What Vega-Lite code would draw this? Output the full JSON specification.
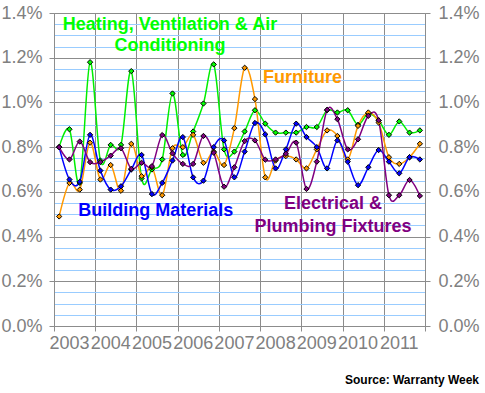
{
  "$schema": "https://vega.github.io/schema/vega-lite/v6.json",
  "autosize": {"type": "none"},
  "padding": {"left": 54, "top": 13, "right": 60, "bottom": 67},
  "width": 371,
  "height": 313,
  "background": "white",
  "title": {"text": "Source: Warranty Week", "orient": "bottom", "anchor": "end", "frame": "bounds", "font": "Liberation Sans", "fontSize": 12, "fontWeight": "bold", "color": "black", "offset": 23},
  "datasets": {
    "q": [
      {"series":"HVAC","t":2003.125,"v":0.80},{"series":"HVAC","t":2003.375,"v":0.88},{"series":"HVAC","t":2003.625,"v":0.64},{"series":"HVAC","t":2003.875,"v":1.18},
      {"series":"HVAC","t":2004.125,"v":0.74},{"series":"HVAC","t":2004.375,"v":0.81},{"series":"HVAC","t":2004.625,"v":0.81},{"series":"HVAC","t":2004.875,"v":1.14},
      {"series":"HVAC","t":2005.125,"v":0.66},{"series":"HVAC","t":2005.375,"v":0.70},{"series":"HVAC","t":2005.625,"v":0.745},{"series":"HVAC","t":2005.875,"v":1.04},
      {"series":"HVAC","t":2006.125,"v":0.765},{"series":"HVAC","t":2006.375,"v":0.87},{"series":"HVAC","t":2006.625,"v":0.995},{"series":"HVAC","t":2006.875,"v":1.17},
      {"series":"HVAC","t":2007.125,"v":0.79},{"series":"HVAC","t":2007.375,"v":0.78},{"series":"HVAC","t":2007.625,"v":0.87},{"series":"HVAC","t":2007.875,"v":0.965},
      {"series":"HVAC","t":2008.125,"v":0.905},{"series":"HVAC","t":2008.375,"v":0.865},{"series":"HVAC","t":2008.625,"v":0.865},{"series":"HVAC","t":2008.875,"v":0.865},
      {"series":"HVAC","t":2009.125,"v":0.89},{"series":"HVAC","t":2009.375,"v":0.89},{"series":"HVAC","t":2009.625,"v":0.965},{"series":"HVAC","t":2009.875,"v":0.955},
      {"series":"HVAC","t":2010.125,"v":0.965},{"series":"HVAC","t":2010.375,"v":0.90},{"series":"HVAC","t":2010.625,"v":0.95},{"series":"HVAC","t":2010.875,"v":0.92},
      {"series":"HVAC","t":2011.125,"v":0.855},{"series":"HVAC","t":2011.375,"v":0.915},{"series":"HVAC","t":2011.625,"v":0.865},{"series":"HVAC","t":2011.875,"v":0.875},

      {"series":"Furniture","t":2003.125,"v":0.49},{"series":"Furniture","t":2003.375,"v":0.64},{"series":"Furniture","t":2003.625,"v":0.61},{"series":"Furniture","t":2003.875,"v":0.82},
      {"series":"Furniture","t":2004.125,"v":0.655},{"series":"Furniture","t":2004.375,"v":0.72},{"series":"Furniture","t":2004.625,"v":0.605},{"series":"Furniture","t":2004.875,"v":0.815},
      {"series":"Furniture","t":2005.125,"v":0.67},{"series":"Furniture","t":2005.375,"v":0.71},{"series":"Furniture","t":2005.625,"v":0.585},{"series":"Furniture","t":2005.875,"v":0.795},
      {"series":"Furniture","t":2006.125,"v":0.80},{"series":"Furniture","t":2006.375,"v":0.855},{"series":"Furniture","t":2006.625,"v":0.73},{"series":"Furniture","t":2006.875,"v":0.78},
      {"series":"Furniture","t":2007.125,"v":0.72},{"series":"Furniture","t":2007.375,"v":0.885},{"series":"Furniture","t":2007.625,"v":1.155},{"series":"Furniture","t":2007.875,"v":1.015},
      {"series":"Furniture","t":2008.125,"v":0.665},{"series":"Furniture","t":2008.375,"v":0.74},{"series":"Furniture","t":2008.625,"v":0.76},{"series":"Furniture","t":2008.875,"v":0.745},
      {"series":"Furniture","t":2009.125,"v":0.705},{"series":"Furniture","t":2009.375,"v":0.79},{"series":"Furniture","t":2009.625,"v":0.875},{"series":"Furniture","t":2009.875,"v":0.85},
      {"series":"Furniture","t":2010.125,"v":0.745},{"series":"Furniture","t":2010.375,"v":0.895},{"series":"Furniture","t":2010.625,"v":0.955},{"series":"Furniture","t":2010.875,"v":0.91},
      {"series":"Furniture","t":2011.125,"v":0.755},{"series":"Furniture","t":2011.375,"v":0.725},{"series":"Furniture","t":2011.625,"v":0.755},{"series":"Furniture","t":2011.875,"v":0.815},

      {"series":"Building Materials","t":2003.125,"v":0.80},{"series":"Building Materials","t":2003.375,"v":0.655},{"series":"Building Materials","t":2003.625,"v":0.645},{"series":"Building Materials","t":2003.875,"v":0.855},
      {"series":"Building Materials","t":2004.125,"v":0.695},{"series":"Building Materials","t":2004.375,"v":0.61},{"series":"Building Materials","t":2004.625,"v":0.625},{"series":"Building Materials","t":2004.875,"v":0.70},
      {"series":"Building Materials","t":2005.125,"v":0.765},{"series":"Building Materials","t":2005.375,"v":0.59},{"series":"Building Materials","t":2005.625,"v":0.64},{"series":"Building Materials","t":2005.875,"v":0.74},
      {"series":"Building Materials","t":2006.125,"v":0.845},{"series":"Building Materials","t":2006.375,"v":0.665},{"series":"Building Materials","t":2006.625,"v":0.65},{"series":"Building Materials","t":2006.875,"v":0.80},
      {"series":"Building Materials","t":2007.125,"v":0.83},{"series":"Building Materials","t":2007.375,"v":0.665},{"series":"Building Materials","t":2007.625,"v":0.78},{"series":"Building Materials","t":2007.875,"v":0.908},
      {"series":"Building Materials","t":2008.125,"v":0.857},{"series":"Building Materials","t":2008.375,"v":0.705},{"series":"Building Materials","t":2008.625,"v":0.79},{"series":"Building Materials","t":2008.875,"v":0.905},
      {"series":"Building Materials","t":2009.125,"v":0.845},{"series":"Building Materials","t":2009.375,"v":0.80},{"series":"Building Materials","t":2009.625,"v":0.705},{"series":"Building Materials","t":2009.875,"v":0.83},
      {"series":"Building Materials","t":2010.125,"v":0.735},{"series":"Building Materials","t":2010.375,"v":0.63},{"series":"Building Materials","t":2010.625,"v":0.71},{"series":"Building Materials","t":2010.875,"v":0.787},
      {"series":"Building Materials","t":2011.125,"v":0.735},{"series":"Building Materials","t":2011.375,"v":0.683},{"series":"Building Materials","t":2011.625,"v":0.755},{"series":"Building Materials","t":2011.875,"v":0.745},

      {"series":"Electrical","t":2003.125,"v":0.80},{"series":"Electrical","t":2003.375,"v":0.745},{"series":"Electrical","t":2003.625,"v":0.825},{"series":"Electrical","t":2003.875,"v":0.733},
      {"series":"Electrical","t":2004.125,"v":0.733},{"series":"Electrical","t":2004.375,"v":0.762},{"series":"Electrical","t":2004.625,"v":0.795},{"series":"Electrical","t":2004.875,"v":0.703},
      {"series":"Electrical","t":2005.125,"v":0.73},{"series":"Electrical","t":2005.375,"v":0.715},{"series":"Electrical","t":2005.625,"v":0.854},{"series":"Electrical","t":2005.875,"v":0.772},
      {"series":"Electrical","t":2006.125,"v":0.725},{"series":"Electrical","t":2006.375,"v":0.725},{"series":"Electrical","t":2006.625,"v":0.85},{"series":"Electrical","t":2006.875,"v":0.775},
      {"series":"Electrical","t":2007.125,"v":0.623},{"series":"Electrical","t":2007.375,"v":0.71},{"series":"Electrical","t":2007.625,"v":0.827},{"series":"Electrical","t":2007.875,"v":0.83},
      {"series":"Electrical","t":2008.125,"v":0.744},{"series":"Electrical","t":2008.375,"v":0.745},{"series":"Electrical","t":2008.625,"v":0.77},{"series":"Electrical","t":2008.875,"v":0.82},
      {"series":"Electrical","t":2009.125,"v":0.613},{"series":"Electrical","t":2009.375,"v":0.735},{"series":"Electrical","t":2009.625,"v":0.967},{"series":"Electrical","t":2009.875,"v":0.925},
      {"series":"Electrical","t":2010.125,"v":0.79},{"series":"Electrical","t":2010.375,"v":0.835},{"series":"Electrical","t":2010.625,"v":0.94},{"series":"Electrical","t":2010.875,"v":0.92},
      {"series":"Electrical","t":2011.125,"v":0.585},{"series":"Electrical","t":2011.375,"v":0.585},{"series":"Electrical","t":2011.625,"v":0.653},{"series":"Electrical","t":2011.875,"v":0.582}
    ]
  },
  "data": {"name": "q"},
  "layer": [
    {
      "mark": {"type": "line", "interpolate": "cardinal", "strokeWidth": 1.5},
      "encoding": {
        "x": {"field": "t", "type": "quantitative",
          "scale": {"domain": [2003, 2012], "nice": false, "zero": false},
          "axis": {"title": null, "values": [2003,2004,2005,2006,2007,2008,2009,2010,2011,2012],
            "grid": true, "gridColor": "#8c8c8c", "domainColor": "#8c8c8c", "tickColor": "#8c8c8c", "tickSize": 5,
            "labelExpr": "datum.value >= 2012 ? '' : format(datum.value, 'd')", "labelOffset": 15,
            "labelFont": "Liberation Sans", "labelFontSize": 18, "labelColor": "#808080", "labelPadding": 3,
            "labelOverlap": false, "labelFlush": false, "labelBound": false}},
        "y": {"field": "v", "type": "quantitative",
          "scale": {"domain": [0, 1.4], "nice": false},
          "axis": {"title": null, "orient": "left",
            "values": [0,0.05,0.1,0.15,0.2,0.25,0.3,0.35,0.4,0.45,0.5,0.55,0.6,0.65,0.7,0.75,0.8,0.85,0.9,0.95,1,1.05,1.1,1.15,1.2,1.25,1.3,1.35,1.4],
            "grid": true,
            "gridColor": {"condition": {"test": "round(datum.value*100) % 20 == 0", "value": "#8c8c8c"}, "value": "#99ccff"},
            "tickOpacity": {"condition": {"test": "round(datum.value*100) % 20 == 0", "value": 1}, "value": 0},
            "labelExpr": "round(datum.value*100) % 20 == 0 ? format(datum.value, '.1f') + '%' : ''",
            "domainColor": "#8c8c8c", "tickColor": "#8c8c8c", "tickSize": 5,
            "labelFont": "Liberation Sans", "labelFontSize": 18, "labelColor": "#808080", "labelPadding": 7,
            "labelOverlap": false, "labelBound": false}},
        "color": {"field": "series", "type": "nominal", "legend": null,
          "scale": {"domain": ["HVAC", "Furniture", "Building Materials", "Electrical"], "range": ["#00ee00", "#ff9900", "#0000ff", "#800080"]}}
      }
    },
    {
      "mark": {"type": "point", "shape": "diamond", "filled": true, "size": 28, "stroke": "black", "strokeWidth": 1, "opacity": 1},
      "encoding": {
        "x": {"field": "t", "type": "quantitative"},
        "y": {"field": "v", "type": "quantitative",
          "axis": {"title": null, "orient": "right", "values": [0,0.2,0.4,0.6,0.8,1,1.2,1.4], "grid": false,
            "labelExpr": "format(datum.value, '.1f') + '%'",
            "domainColor": "#8c8c8c", "tickColor": "#8c8c8c", "tickSize": 5,
            "labelFont": "Liberation Sans", "labelFontSize": 18, "labelColor": "#808080", "labelPadding": 8,
            "labelOverlap": false, "labelBound": false}},
        "fill": {"field": "series", "type": "nominal", "legend": null,
          "scale": {"domain": ["HVAC", "Furniture", "Building Materials", "Electrical"], "range": ["#00ff00", "#ff9900", "#0000ff", "#800080"]}}
      }
    },
    {
      "data": {"values": [{}]},
      "mark": {"type": "text", "text": ["Heating, Ventilation & Air", "Conditioning"], "font": "Liberation Sans", "fontSize": 18, "fontWeight": "bold", "fill": "#00ff00", "align": "center", "baseline": "alphabetic", "lineHeight": 21.5},
      "encoding": {"x": {"datum": 2005.814, "type": "quantitative"}, "y": {"datum": 1.324, "type": "quantitative", "axis": null}}
    },
    {
      "data": {"values": [{}]},
      "mark": {"type": "text", "text": "Furniture", "font": "Liberation Sans", "fontSize": 18, "fontWeight": "bold", "fill": "#ff9900", "align": "center", "baseline": "alphabetic"},
      "encoding": {"x": {"datum": 2009.029, "type": "quantitative"}, "y": {"datum": 1.085, "type": "quantitative", "axis": null}}
    },
    {
      "data": {"values": [{}]},
      "mark": {"type": "text", "text": "Building Materials", "font": "Liberation Sans", "fontSize": 18, "fontWeight": "bold", "fill": "#0000ff", "align": "center", "baseline": "alphabetic"},
      "encoding": {"x": {"datum": 2005.47, "type": "quantitative"}, "y": {"datum": 0.492, "type": "quantitative", "axis": null}}
    },
    {
      "data": {"values": [{}]},
      "mark": {"type": "text", "text": ["Electrical &", "Plumbing Fixtures"], "font": "Liberation Sans", "fontSize": 18, "fontWeight": "bold", "fill": "#800080", "align": "center", "baseline": "alphabetic", "lineHeight": 22.4},
      "encoding": {"x": {"datum": 2009.769, "type": "quantitative"}, "y": {"datum": 0.522, "type": "quantitative", "axis": null}}
    }
  ],
  "resolve": {"axis": {"y": "independent"}}
}
